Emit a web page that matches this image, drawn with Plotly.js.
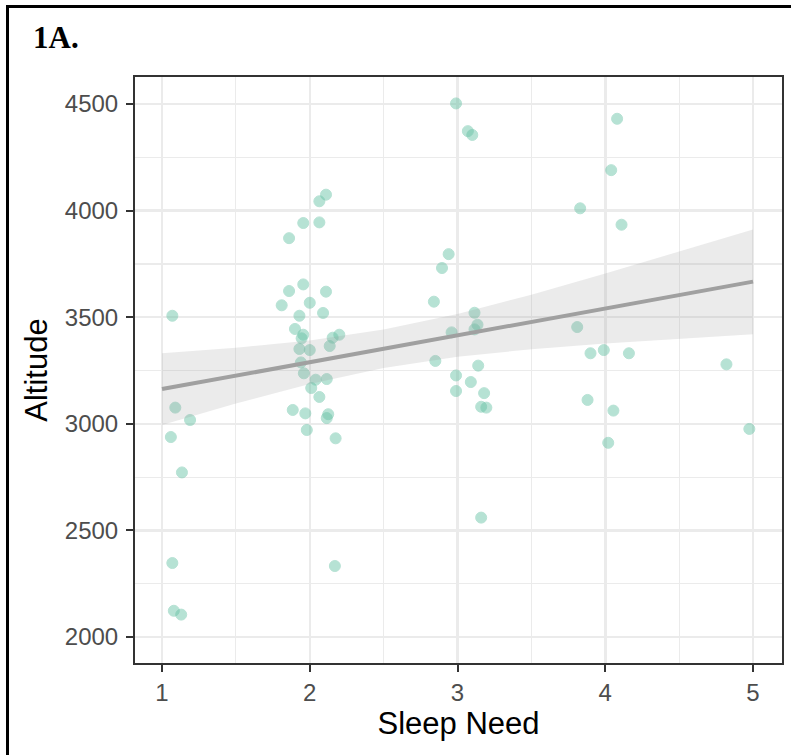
<!DOCTYPE html>
<html>
<head>
<meta charset="utf-8">
<script src="https://cdn.plot.ly/plotly-3.0.1.min.js"></script>
<style>
  html, body { margin: 0; padding: 0; background: #ffffff; }
  #wrap { position: relative; width: 791px; height: 755px; overflow: hidden; }
  #chart { position: absolute; left: 0; top: 0; width: 791px; height: 755px; }
  #frame { position: absolute; left: 6px; top: 5px; width: 900px; height: 900px;
           border-top: 3px solid #000; border-left: 3px solid #000; pointer-events: none; }
</style>
</head>
<body>
<div id="wrap">
  <div id="chart"></div>
  <div id="frame"></div>
</div>
<script>
// Jittered observations: Sleep Need (x) vs Altitude (y)
const sleepNeed = [
  1.07, 1.09, 1.19, 1.06, 1.135, 1.07, 1.08, 1.13,
  2.11, 2.065, 1.956, 2.065, 1.86, 1.956, 1.86, 2.11, 1.81, 2.0, 2.09, 1.93, 1.90, 1.956, 1.945, 2.155, 2.20,
  2.135, 1.93, 2.0, 1.94, 1.96, 2.04, 2.115, 2.01, 2.065, 1.885, 1.97, 2.125, 2.115, 1.98, 2.175, 2.17,
  2.99, 3.07, 3.10, 2.94, 2.895, 2.84, 3.115, 3.135, 3.115, 2.96, 2.85, 3.14, 2.99, 3.09, 2.99, 3.18, 3.16, 3.195, 3.16,
  4.08, 4.04, 3.83, 4.11, 3.81, 3.90, 3.99, 4.16, 3.88, 4.055, 4.02,
  4.82, 4.975
];
const altitude = [
  3507, 3076, 3018, 2938, 2772, 2347, 2123, 2105,
  4075, 4044, 3942, 3945, 3871, 3654, 3623, 3620, 3556, 3568, 3520, 3507, 3445, 3418, 3401, 3404, 3418,
  3365, 3351, 3346, 3288, 3237, 3207, 3210, 3168, 3126, 3065, 3049, 3045, 3027, 2971, 2932, 2333,
  4503, 4373, 4355, 3796, 3731, 3573, 3521, 3465, 3443, 3429, 3295, 3273, 3227, 3196, 3154, 3144, 3080, 3076, 2560,
  4431, 4190, 4011, 3934, 3454, 3331, 3346, 3331, 3112, 3062, 2911,
  3279, 2976
];

// Linear fit and 95% confidence band
const fitX     = [1, 1.5, 2, 2.5, 3, 3.5, 4, 4.5, 5];
const fitY     = [3163, 3226, 3289, 3352, 3415, 3478, 3541, 3604, 3667];
const fitUpper = [3331, 3357, 3391, 3442, 3515, 3606, 3705, 3809, 3912];
const fitLower = [2995, 3095, 3187, 3262, 3315, 3350, 3377, 3399, 3420];

// Tick labels
const xTicks = [1, 2, 3, 4, 5];
const yTicks = [2000, 2500, 3000, 3500, 4000, 4500];

const traces = [
  {
    type: 'scatter', mode: 'markers',
    x: sleepNeed, y: altitude,
    marker: { size: 11, color: '#66c2a5', opacity: 0.47,
              line: { color: '#66c2a5', width: 1 } },
    hoverinfo: 'x+y', showlegend: false
  },
  {
    type: 'scatter', mode: 'lines',
    x: fitX.concat(fitX.slice().reverse()),
    y: fitUpper.concat(fitLower.slice().reverse()),
    fill: 'toself', fillcolor: 'rgba(153,153,153,0.2)',
    line: { width: 0, color: 'rgba(0,0,0,0)' },
    hoverinfo: 'skip', showlegend: false
  },
  {
    type: 'scatter', mode: 'lines',
    x: fitX, y: fitY,
    line: { color: '#a0a0a0', width: 4 },
    hoverinfo: 'skip', showlegend: false
  }
];

const axisCommon = {
  showline: true, mirror: true, linecolor: '#333333', linewidth: 2,
  ticks: 'outside', ticklen: 7, tickwidth: 2, tickcolor: '#333333',
  tickfont: { family: 'Liberation Sans, Arial, sans-serif', size: 24, color: '#4d4d4d' },
  showgrid: true, gridcolor: '#ebebeb', gridwidth: 2.5,
  zeroline: false
};

const layout = {
  width: 791, height: 755,
  margin: { l: 135, r: 9, t: 77, b: 92 },
  paper_bgcolor: '#ffffff', plot_bgcolor: '#ffffff',
  showlegend: false,
  title: {
    text: '1A.',
    font: { family: 'Liberation Serif, Times New Roman, serif', size: 31, color: '#000000', weight: 'bold' },
    xref: 'container', yref: 'container',
    x: 33 / 791, xanchor: 'left',
    y: 1 - 37 / 755, yanchor: 'middle'
  },
  xaxis: Object.assign({}, axisCommon, {
    range: [0.8173, 5.196],
    tickvals: xTicks, ticktext: xTicks.map(String),
    minor: { dtick: 0.5, tick0: 0.5, showgrid: true, gridcolor: '#ebebeb', gridwidth: 1.2, ticks: '' },
    title: { text: 'Sleep Need', standoff: 8,
             font: { family: 'Liberation Sans, Arial, sans-serif', size: 31, color: '#000000' } }
  }),
  yaxis: Object.assign({}, axisCommon, {
    range: [1878, 4627],
    tickvals: yTicks, ticktext: yTicks.map(String),
    ticklabelstandoff: 3,
    minor: { dtick: 250, tick0: 2250, showgrid: true, gridcolor: '#ebebeb', gridwidth: 1.2, ticks: '' },
    title: { text: 'Altitude', standoff: 8,
             font: { family: 'Liberation Sans, Arial, sans-serif', size: 31, color: '#000000' } }
  })
};

Plotly.newPlot('chart', traces, layout, { displayModeBar: false, staticPlot: true });
</script>
</body>
</html>
